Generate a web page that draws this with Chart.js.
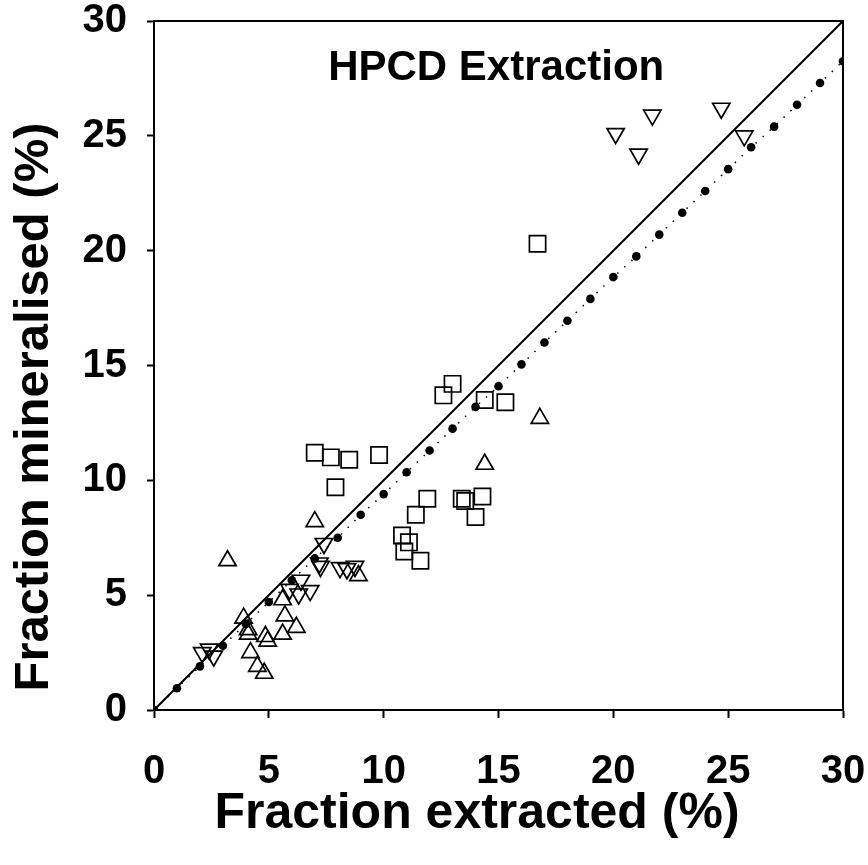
<!DOCTYPE html>
<html>
<head>
<meta charset="utf-8">
<script src="https://cdn.jsdelivr.net/npm/chart.js@4/dist/chart.umd.min.js"></script>
<style>
  html, body { margin: 0; padding: 0; background: #fff; }
  #wrap { width: 868px; height: 865px; }
</style>
</head>
<body>
<div id="wrap"><canvas id="chart_hpcdExtraction"></canvas></div>
<script>
// 1:1 line
var equalityX = [0, 30];
var equalityY = [0, 30];

// fitted line (dotted, filled dots)
var fitX = [0, 1, 2, 3, 4, 5, 6, 7, 8, 9, 10, 11, 12, 13, 14, 15, 16, 17, 18, 19, 20, 21, 22, 23, 24, 25, 26, 27, 28, 29, 30];
var fitY = [0, 0.95, 1.9, 2.8, 3.75, 4.7, 5.65, 6.6, 7.5, 8.5, 9.4, 10.35, 11.3, 12.25, 13.2, 14.1, 15.05, 16.0, 16.95, 17.9, 18.85, 19.75, 20.7, 21.65, 22.6, 23.55, 24.5, 25.4, 26.35, 27.3, 28.25];

// open squares
var squaresX = [16.7, 13.0, 12.6, 14.4, 15.3, 7.0, 7.7, 8.5, 9.8, 7.9, 11.9, 11.4, 13.4, 13.55, 14.3, 14.0, 10.8, 11.1, 10.9, 11.6];
var squaresY = [20.3, 14.2, 13.7, 13.5, 13.4, 11.2, 11.0, 10.9, 11.1, 9.7, 9.2, 8.5, 9.2, 9.1, 9.3, 8.4, 7.6, 7.3, 6.9, 6.5];

// open triangles (up)
var upX = [16.8, 14.4, 7.0, 3.2, 3.9, 4.1, 4.1, 4.85, 5.6, 6.2, 5.7, 5.6, 4.2, 4.5, 4.8, 8.9, 4.95];
var upY = [12.7, 10.7, 8.2, 6.5, 4.0, 3.5, 3.3, 3.2, 3.3, 3.6, 4.1, 4.8, 2.5, 1.9, 1.6, 5.85, 3.0];

// open triangles (down)
var downX = [20.1, 21.7, 21.1, 24.7, 25.7, 7.4, 7.2, 7.25, 6.4, 6.8, 6.3, 5.9, 8.1, 8.4, 8.75, 2.1, 2.4, 2.6];
var downY = [25.1, 25.9, 24.2, 26.2, 25.0, 7.25, 6.4, 6.25, 5.65, 5.2, 5.05, 5.25, 6.2, 6.15, 6.25, 2.5, 2.65, 2.35];

var chartTitle = 'HPCD Extraction';
var xTitle = 'Fraction extracted (%)';
var yTitle = 'Fraction mineralised (%)';

function pairs(xs, ys) {
    return xs.map(function(x, i) { return {x: x, y: ys[i]}; });
}

var FONT = "'Liberation Sans', Arial, Helvetica, sans-serif";

var chart_hpcdExtraction = new Chart(document.getElementById('chart_hpcdExtraction'), {
    type: 'scatter',
    data: {
        datasets: [
            {
                label: '1:1',
                type: 'line',
                data: pairs(equalityX, equalityY),
                borderColor: '#000',
                borderWidth: 2,
                pointRadius: 0,
                fill: false
            },
            {
                label: 'fit',
                type: 'line',
                data: pairs(fitX, fitY),
                borderColor: '#000',
                borderWidth: 1.5,
                borderDash: [1.5, 8],
                pointRadius: 4.3,
                pointBackgroundColor: '#000',
                pointBorderWidth: 0,
                fill: false
            },
            {
                label: 'squares',
                data: pairs(squaresX, squaresY),
                pointStyle: 'rect',
                pointRadius: 11.5,
                borderColor: '#000',
                borderWidth: 1.7,
                backgroundColor: 'rgba(0,0,0,0)'
            },
            {
                label: 'up',
                data: pairs(upX, upY),
                pointStyle: 'triangle',
                pointRadius: 10,
                borderColor: '#000',
                borderWidth: 1.7,
                backgroundColor: 'rgba(0,0,0,0)'
            },
            {
                label: 'down',
                data: pairs(downX, downY),
                pointStyle: 'triangle',
                pointRotation: 180,
                pointRadius: 10,
                borderColor: '#000',
                borderWidth: 1.7,
                backgroundColor: 'rgba(0,0,0,0)'
            }
        ]
    },
    options: {
        animation: false,
        responsive: true,
        maintainAspectRatio: false,
        layout: {
            padding: {top: 21, right: 25, left: 0, bottom: 0}
        },
        plugins: {
            legend: {display: false},
            tooltip: {enabled: false},
            title: {display: false}
        },
        scales: {
            x: {
                type: 'linear',
                min: 0,
                max: 30,
                afterFit: function(scale) {
                    scale.height = 155;
                    scale.paddingLeft = 0;
                    scale.paddingRight = 0;
                },
                ticks: {
                    stepSize: 5,
                    color: '#000',
                    padding: 34,
                    maxRotation: 0,
                    font: {family: FONT, size: 40, weight: 'bold', lineHeight: 1}
                },
                grid: {
                    drawOnChartArea: false,
                    drawTicks: true,
                    tickLength: 8,
                    tickWidth: 2,
                    tickColor: '#000'
                },
                border: {display: true, color: '#000', width: 2}
            },
            y: {
                type: 'linear',
                min: 0,
                max: 30,
                afterFit: function(scale) {
                    scale.width = 154;
                    scale.paddingTop = 0;
                    scale.paddingBottom = 0;
                },
                ticks: {
                    stepSize: 5,
                    color: '#000',
                    padding: 20,
                    font: {family: FONT, size: 40, weight: 'bold', lineHeight: 1}
                },
                grid: {
                    drawOnChartArea: false,
                    drawTicks: true,
                    tickLength: 7,
                    tickWidth: 2,
                    tickColor: '#000'
                },
                border: {display: true, color: '#000', width: 2}
            }
        }
    },
    plugins: [{
        id: 'frameAndLabels',
        beforeDraw: function(chart) {
            var ctx = chart.ctx;
            ctx.save();
            ctx.fillStyle = 'white';
            ctx.fillRect(0, 0, chart.width, chart.height);
            ctx.restore();
        },
        afterDraw: function(chart) {
            var ctx = chart.ctx;
            var a = chart.chartArea;
            ctx.save();
            // top and right frame
            ctx.strokeStyle = '#000';
            ctx.lineWidth = 2;
            ctx.beginPath();
            ctx.moveTo(a.left, a.top);
            ctx.lineTo(a.right, a.top);
            ctx.lineTo(a.right, a.bottom);
            ctx.stroke();
            ctx.fillStyle = '#000';
            ctx.textAlign = 'center';
            ctx.textBaseline = 'middle';
            // title inside the plot
            ctx.font = 'bold 42px ' + FONT;
            ctx.fillText(chartTitle, chart.scales.x.getPixelForValue(14.9), chart.scales.y.getPixelForValue(27.95));
            // axis titles
            ctx.font = 'bold 50px ' + FONT;
            ctx.fillText(xTitle, 477, 814);
            ctx.translate(34, 407);
            ctx.rotate(-Math.PI / 2);
            ctx.font = 'bold 49px ' + FONT;
            ctx.fillText(yTitle, 0, 0);
            ctx.restore();
        }
    }]
});
</script>
</body>
</html>
